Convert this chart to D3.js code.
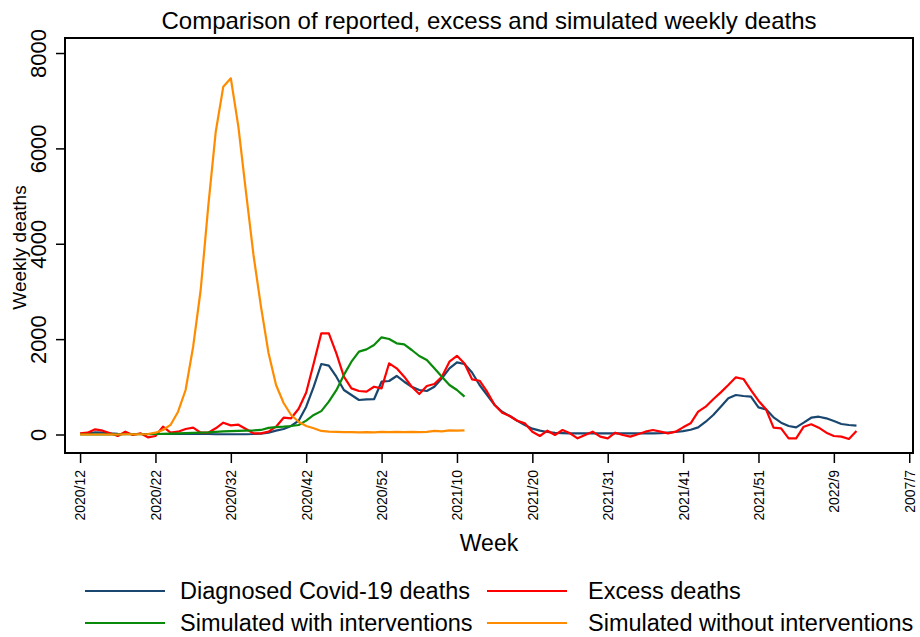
<!DOCTYPE html>
<html>
<head>
<meta charset="utf-8">
<script src="https://cdn.jsdelivr.net/npm/d3@7"></script>
<style>
  body { margin: 0; background: #fff; }
  svg { font-family: "Liberation Sans", Arial, sans-serif; }
</style>
</head>
<body>
<div id="chart"></div>
<script>
// x tick labels, one every 10 weeks (week index 0, 10, ... 110)
const tickLabels = ['2020/12', '2020/22', '2020/32', '2020/42', '2020/52', '2021/10',
  '2021/20', '2021/31', '2021/41', '2021/51', '2022/9', '2007/7'];
const yTicks = [0, 2000, 4000, 6000, 8000];

const diagnosed = [10, 20, 45, 40, 25, 15, 10, 10, 10, 10, 10, 10, 10, 10, 10, 10, 10, 10, 5, 5,
  5, 5, 5, 10, 20, 40, 80, 115, 178, 290, 583, 1002, 1478, 1443, 1212, 933, 828, 723, 738, 739,
  1107, 1122, 1227, 1107, 1002, 933, 912, 1002, 1178, 1388, 1514, 1478, 1300, 1038, 828, 619, 478, 388, 289, 199,
  122, 80, 52, 35, 30, 25, 25, 25, 25, 25, 25, 25, 25, 25, 25, 25, 25, 30, 40, 52,
  70, 100, 150, 268, 409, 583, 759, 828, 807, 793, 570, 528, 360, 248, 178, 150, 248, 352, 373, 339,
  283, 220, 199, 185];

const excess = [25, 38, 109, 80, 25, -31, 59, -10, 25, -59, -31, 164, 38, 59, 115, 143, 38, 38, 130, 248,
  192, 206, 115, 25, 25, 59, 164, 352, 340, 540, 880, 1493, 2122, 2122, 1703, 1212, 968, 912, 898, 1002,
  968, 1493, 1388, 1212, 1002, 849, 1017, 1059, 1212, 1527, 1650, 1490, 1157, 1128, 898, 619, 457, 388, 289, 234,
  59, -31, 80, -10, 94, 25, -80, -10, 59, -45, -80, 38, -10, -45, 4, 59, 94, 59, 25, 59,
  150, 234, 478, 583, 738, 884, 1038, 1199, 1164, 933, 709, 528, 143, 130, -80, -80, 164, 214, 143, 38,
  -31, -45, -94, 73];

const withInterventions = [0, 0, 0, 0, 0, 0, 5, 5, 5, 5, 10, 15, 20, 25, 30, 35, 40, 45, 55, 65,
  70, 75, 80, 85, 95, 140, 155, 164, 178, 199, 290, 409, 490, 690, 930, 1250, 1527, 1737, 1786, 1877,
  2038, 2003, 1912, 1891, 1772, 1646, 1562, 1388, 1212, 1038, 933, 793];

const withoutInterventions = [0, 0, 0, 0, 0, 0, 5, 5, 5, 10, 38, 94, 200, 478, 933, 1841, 3030, 4777, 6350, 7294,
  7470, 6455, 5100, 3770, 2680, 1710, 1038, 660, 409, 268, 178, 130, 75, 60, 55, 50, 50, 45, 50, 45,
  55, 50, 55, 50, 55, 50, 55, 75, 65, 85, 80, 85];

const series = [
  { name: 'Diagnosed Covid-19 deaths', values: diagnosed, color: '#1a476f' },
  { name: 'Excess deaths', values: excess, color: '#ff0000' },
  { name: 'Simulated with interventions', values: withInterventions, color: '#0a8a0a' },
  { name: 'Simulated without interventions', values: withoutInterventions, color: '#ff8c00' }
];

const W = 920, H = 637;
const PLOT = { LEFT: 65, RIGHT: 913, TOP: 38, BOTTOM: 453 };

const svg = d3.select('#chart').append('svg')
  .attr('width', W)
  .attr('height', H);

const x = d3.scaleLinear()
  .domain([-2, 110.5])
  .range([PLOT.LEFT, PLOT.RIGHT]);

const y = d3.scaleLinear()
  .domain([-388, 8315])
  .range([PLOT.BOTTOM, PLOT.TOP]);

// title
svg.append('text')
  .attr('x', (PLOT.LEFT + PLOT.RIGHT) / 2)
  .attr('y', 29)
  .attr('text-anchor', 'middle')
  .style('font-size', '24px')
  .text('Comparison of reported, excess and simulated weekly deaths');

// y axis
const yAxis = svg.append('g')
  .attr('transform', `translate(${PLOT.LEFT},0)`)
  .call(d3.axisLeft(y).tickValues(yTicks).tickSize(9).tickFormat(d3.format('d')));
yAxis.select('.domain').remove();
yAxis.selectAll('line').attr('stroke', '#000').attr('stroke-width', 1.5);
yAxis.selectAll('text')
  .attr('x', 0)
  .attr('dy', '0.35em')
  .attr('text-anchor', 'middle')
  .attr('transform', 'translate(-27,0) rotate(-90)')
  .style('font-size', '22px')
  .attr('fill', '#000');

// x axis
const xAxis = svg.append('g')
  .attr('transform', `translate(0,${PLOT.BOTTOM})`)
  .call(d3.axisBottom(x)
    .tickValues(d3.range(0, 111, 10))
    .tickSize(10)
    .tickFormat((d, i) => tickLabels[i]));
xAxis.select('.domain').remove();
xAxis.selectAll('line').attr('stroke', '#000').attr('stroke-width', 1.5);
xAxis.selectAll('text')
  .attr('x', 0)
  .attr('y', 0)
  .attr('dy', '0.35em')
  .attr('text-anchor', 'end')
  .attr('transform', 'translate(0,17) rotate(-90)')
  .style('font-size', '14px')
  .attr('fill', '#000');

// axis titles
svg.append('text')
  .attr('transform', `translate(26,${(PLOT.TOP + PLOT.BOTTOM) / 2 + 2}) rotate(-90)`)
  .attr('text-anchor', 'middle')
  .style('font-size', '19px')
  .text('Weekly deaths');

svg.append('text')
  .attr('x', (PLOT.LEFT + PLOT.RIGHT) / 2)
  .attr('y', 551)
  .attr('text-anchor', 'middle')
  .style('font-size', '23px')
  .text('Week');

// lines
const line = d3.line()
  .x((d, i) => x(i))
  .y(d => y(d));

svg.selectAll('path.series')
  .data(series)
  .enter().append('path')
    .attr('class', 'series')
    .attr('fill', 'none')
    .attr('stroke', d => d.color)
    .attr('stroke-width', 2.2)
    .attr('stroke-linejoin', 'round')
    .attr('d', d => line(d.values));

// plot frame
svg.append('rect')
  .attr('x', PLOT.LEFT)
  .attr('y', PLOT.TOP)
  .attr('width', PLOT.RIGHT - PLOT.LEFT)
  .attr('height', PLOT.BOTTOM - PLOT.TOP)
  .attr('fill', 'none')
  .attr('stroke', '#000')
  .attr('stroke-width', 2);

// legend, two columns
const legend = svg.append('g');
const items = legend.selectAll('g')
  .data(series)
  .enter().append('g')
    .attr('transform', (d, i) => `translate(${i % 2 ? 487 : 85},${i < 2 ? 591 : 623})`);
items.append('line')
  .attr('x1', 0).attr('x2', 80)
  .attr('stroke', d => d.color)
  .attr('stroke-width', 2.2);
items.append('text')
  .attr('x', (d, i) => i % 2 ? 101 : 95)
  .attr('dy', '0.35em')
  .style('font-size', '23.5px')
  .text(d => d.name);
</script>
</body>
</html>
